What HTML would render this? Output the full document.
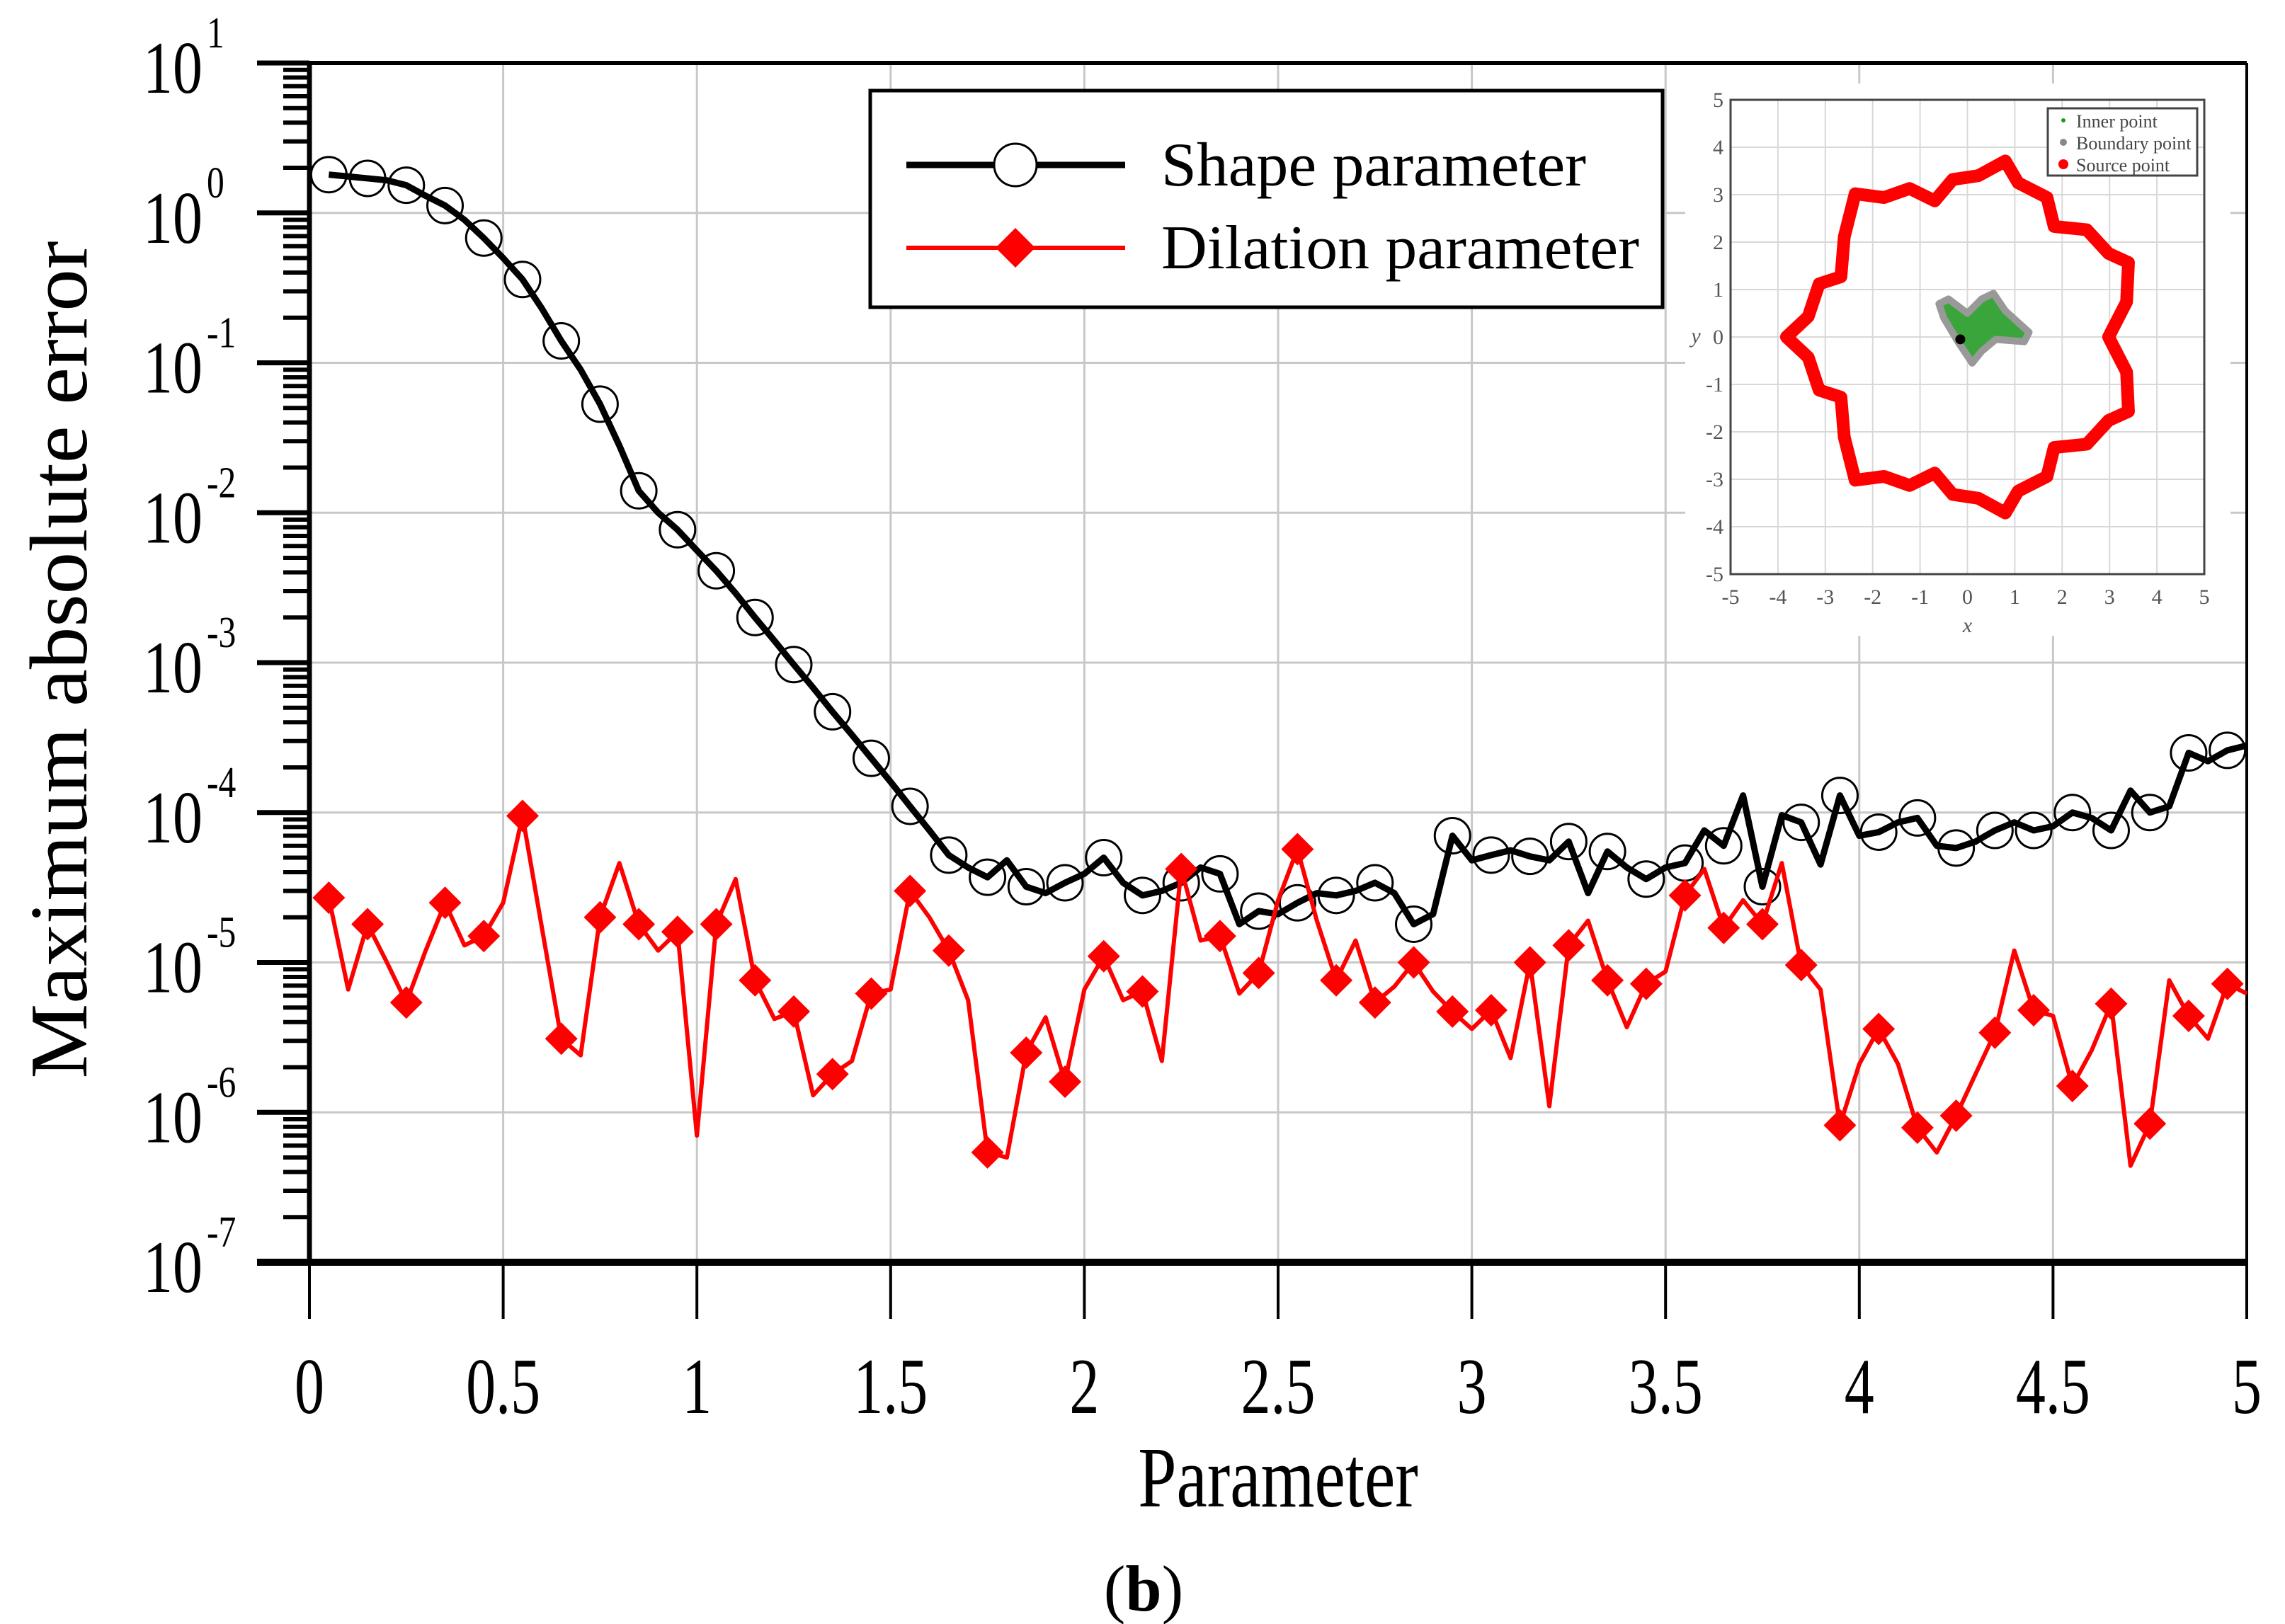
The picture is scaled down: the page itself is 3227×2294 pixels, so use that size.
<!DOCTYPE html>
<html><head><meta charset="utf-8"><style>
html,body{margin:0;padding:0;background:#fff;}
svg{display:block;font-family:"Liberation Serif",serif;}
</style></head><body>
<svg id="chart" width="3227" height="2294" viewBox="0 0 3227 2294" xmlns="http://www.w3.org/2000/svg"></svg>
<script>
// ---- data ----
const xTicks = [0,0.5,1,1.5,2,2.5,3,3.5,4,4.5,5];
const xTickLabels = ["0","0.5","1","1.5","2","2.5","3","3.5","4","4.5","5"];
const yExps = [1,0,-1,-2,-3,-4,-5,-6,-7];
const paramX = [];
for (let k = 1; k <= 100; k++) paramX.push(+(k*0.05).toFixed(2));
const shapeVals = [1.8,1.75,1.7,1.65,1.53,1.3,1.12,0.9,0.68,0.5,0.36,0.23,0.14,0.09,0.053,0.028,0.014,0.01,0.0077,0.0056,
0.0041,0.0029,0.002,0.0014,0.00097,6.8e-4,4.7e-4,3.3e-4,2.3e-4,1.6e-4,1.1e-4,7.6e-5,5.2e-5,4.3e-5,3.7e-5,4.8e-5,3.2e-5,2.9e-5,3.4e-5,3.9e-5,
5.0e-5,3.4e-5,2.8e-5,3.0e-5,3.4e-5,4.3e-5,3.9e-5,1.8e-5,2.2e-5,2.1e-5,2.5e-5,2.9e-5,2.8e-5,3.0e-5,3.4e-5,2.9e-5,1.8e-5,2.1e-5,7.0e-5,4.8e-5,
5.2e-5,5.6e-5,5.1e-5,4.8e-5,6.4e-5,2.9e-5,5.5e-5,4.3e-5,3.6e-5,4.3e-5,4.6e-5,7.6e-5,6.0e-5,1.3e-4,3.2e-5,9.6e-5,8.6e-5,4.5e-5,1.3e-4,7.0e-5,
7.4e-5,8.6e-5,9.2e-5,6.0e-5,5.8e-5,6.4e-5,7.6e-5,8.6e-5,7.6e-5,8.1e-5,1.0e-4,9.2e-5,7.6e-5,1.4e-4,1.0e-4,1.1e-4,2.5e-4,2.2e-4,2.6e-4,2.8e-4];
const dilationVals = [2.7e-5,6.6e-6,1.8e-5,1.0e-5,5.4e-6,1.2e-5,2.5e-5,1.3e-5,1.5e-5,2.5e-5,9.5e-5,1.7e-5,3.1e-6,2.4e-6,2.0e-5,4.6e-5,1.8e-5,1.2e-5,1.6e-5,7e-7,
1.8e-5,3.6e-5,7.6e-6,4.2e-6,4.7e-6,1.3e-6,1.8e-6,2.2e-6,6.2e-6,6.6e-6,3.0e-5,2.0e-5,1.2e-5,5.6e-6,5.4e-7,5.0e-7,2.5e-6,4.3e-6,1.6e-6,6.6e-6,
1.1e-5,5.6e-6,6.4e-6,2.2e-6,4.2e-5,1.4e-5,1.5e-5,6.2e-6,8.5e-6,2.6e-5,5.7e-5,1.9e-5,7.6e-6,1.4e-5,5.4e-6,6.9e-6,1.0e-5,6.4e-6,4.7e-6,3.6e-6,
4.8e-6,2.3e-6,1.0e-5,1.1e-6,1.3e-5,1.9e-5,7.6e-6,3.7e-6,7.2e-6,8.7e-6,2.8e-5,4.2e-5,1.7e-5,2.6e-5,1.8e-5,4.6e-5,9.6e-6,6.6e-6,8.2e-7,2.1e-6,
3.6e-6,2.1e-6,7.9e-7,5.4e-7,9.5e-7,1.8e-6,3.4e-6,1.2e-5,4.8e-6,4.4e-6,1.5e-6,2.6e-6,5.3e-6,4.4e-7,8.4e-7,7.6e-6,4.4e-6,3.1e-6,7.2e-6,6.2e-6];
// inset (decorative) data
const insetTicks = [-5,-4,-3,-2,-1,0,1,2,3,4,5];
const sourceTop = [[2.98,0],[3.36,0.74],[3.4,1.57],[2.98,1.76],[2.52,2.26],[1.83,2.33],[1.68,2.94],[1.07,3.25],[0.8,3.71],[0.23,3.4],[-0.31,3.32],[-0.69,2.87],[-1.22,3.13],[-1.76,2.94],[-2.37,3.02],[-2.6,2.11],[-2.67,1.27],[-3.13,1.12],[-3.36,0.43],[-3.82,0]];
const butterfly = [[-0.6,0.7],[-0.4,0.8],[0,0.5],[0.3,0.8],[0.55,0.92],[0.8,0.55],[1.3,0.1],[1.2,-0.1],[0.6,-0.05],[0.3,-0.3],[0.1,-0.55],[0,-0.4],[-0.2,-0.1],[-0.5,0.4]];

const NS = "http://www.w3.org/2000/svg";
const svg = document.getElementById("chart");
function mk(tag, attrs, parent){ const e=document.createElementNS(NS,tag); for(const k in attrs) e.setAttribute(k,attrs[k]); (parent||svg).appendChild(e); return e; }

const L=437, R=3173, T=89, B=1783;
const xS = v => L + (v-0)/(5-0)*(R-L);
const yS = v => T + (1 - Math.log10(v))/8*(B-T);
const yE = e => T + (1 - e)/8*(B-T);

// grid
const grid = mk("g",{});


xTicks.forEach(t=>{ mk("line",{x1:xS(t),x2:xS(t),y1:T,y2:B,stroke:"#c8c8c8","stroke-width":3},grid); });
yExps.forEach(e=>{ mk("line",{x1:L,x2:R,y1:yE(e),y2:yE(e),stroke:"#c8c8c8","stroke-width":3},grid); });

// y ticks and labels
const yAxis = mk("g",{});


yExps.forEach(e=>{
  mk("line",{x1:L-74,x2:L,y1:yE(e),y2:yE(e),stroke:"#000","stroke-width":7},yAxis);
  if(e>-7){ for(let m=2;m<=9;m++){ const yy=yE(e-1+Math.log10(m)); mk("line",{x1:L-37,x2:L,y1:yy,y2:yy,stroke:"#000","stroke-width":6},yAxis);} }
  const t=mk("text",{x:0,y:0,"font-size":105,"text-anchor":"end",transform:`translate(286,${yE(e)+42}) scale(0.8,1)`},yAxis);
  
  
  t.textContent="10";
  const s=mk("text",{x:0,y:0,"font-size":62,transform:`translate(292,${yE(e)-22}) scale(0.8,1)`},yAxis);
  s.textContent=String(e);
});
// x ticks and labels
const xAxis = mk("g",{});


xTicks.forEach((t,i)=>{
  mk("line",{x1:xS(t),x2:xS(t),y1:B,y2:1863,stroke:"#000","stroke-width":4},xAxis);
  const tx=mk("text",{x:0,y:0,"font-size":112,"text-anchor":"middle",transform:`translate(${xS(t)},1996) scale(0.75,1)`},xAxis);
  
  
  tx.textContent=xTickLabels[i];
});
// frame
mk("line",{x1:L,x2:R,y1:T,y2:T,stroke:"#000","stroke-width":6});
mk("line",{x1:R,x2:R,y1:T,y2:B,stroke:"#000","stroke-width":4});
mk("line",{x1:L,x2:L,y1:T,y2:B,stroke:"#000","stroke-width":7});
mk("line",{x1:L-74,x2:R,y1:B,y2:B,stroke:"#000","stroke-width":10});

// series
function series(vals,color,name,w){
  const g=mk("g",{});
  
  
  mk("polyline",{points:vals.map((v,i)=>xS(paramX[i])+","+yS(v)).join(" "),fill:"none",stroke:color,"stroke-width":w,"stroke-linejoin":"round"},g);
  return g;
}
const sg = series(shapeVals,"#000","shape-parameter-series",9);
shapeVals.forEach((v,i)=>{ if(i%2===0){ const c=mk("circle",{cx:xS(paramX[i]),cy:yS(v),r:25,fill:"none",stroke:"#000","stroke-width":3},sg);
  
   }});
const dg = series(dilationVals,"#ff0000","dilation-parameter-series",6);
dilationVals.forEach((v,i)=>{ if(i%2===0){ const cx=xS(paramX[i]), cy=yS(v), d=23;
  const p=mk("polygon",{points:`${cx},${cy-d} ${cx+d},${cy} ${cx},${cy+d} ${cx-d},${cy}`,fill:"#ff0000"},dg);
  
   }});

// axis titles
const yt=mk("text",{x:0,y:0,"font-size":115,"text-anchor":"middle",transform:"translate(122,932) rotate(-90)",textLength:1183,lengthAdjust:"spacingAndGlyphs"});


yt.textContent="Maximum absolute error";
const xt=mk("text",{x:0,y:0,"font-size":122,"text-anchor":"middle",transform:"translate(1805,2128) scale(0.8,1)"});


xt.textContent="Parameter";
const cap=mk("text",{x:1615,y:2275,"font-size":92,"text-anchor":"middle"});


cap.innerHTML='(<tspan font-weight="bold">b</tspan>)';

// legend
const lg=mk("g",{});


mk("rect",{x:1229,y:128,width:1119,height:306,fill:"#fff",stroke:"#000","stroke-width":5},lg);
mk("line",{x1:1280,x2:1589,y1:233,y2:233,stroke:"#000","stroke-width":9},lg);
mk("circle",{cx:1434,cy:233,r:30,fill:"#fff",stroke:"#000","stroke-width":3},lg);
const l1=mk("text",{x:1640,y:262,"font-size":88,textLength:600,lengthAdjust:"spacingAndGlyphs"},lg);


l1.textContent="Shape parameter";
mk("line",{x1:1280,x2:1589,y1:350,y2:350,stroke:"#ff0000","stroke-width":6},lg);
mk("polygon",{points:"1434,322 1462,350 1434,378 1406,350",fill:"#ff0000"},lg);
const l2=mk("text",{x:1640,y:379,"font-size":88,textLength:675,lengthAdjust:"spacingAndGlyphs"},lg);


l2.textContent="Dilation parameter";

// inset
const ig=mk("g",{});


const iL=2444,iR=3113,iT=141,iB=811;
const ix=v=>iL+(v+5)/10*(iR-iL), iy=v=>iB-(v+5)/10*(iB-iT);
mk("rect",{x:2380,y:118,width:770,height:780,fill:"#fff"},ig);
insetTicks.forEach(t=>{
  mk("line",{x1:ix(t),x2:ix(t),y1:iT,y2:iB,stroke:"#d8d8d8","stroke-width":2},ig);
  mk("line",{x1:iL,x2:iR,y1:iy(t),y2:iy(t),stroke:"#d8d8d8","stroke-width":2},ig);
  const a=mk("text",{x:ix(t),y:iB+42,"font-size":30,"text-anchor":"middle",fill:"#555"},ig); a.textContent=String(t);
  const b=mk("text",{x:iL-10,y:iy(t)+10,"font-size":30,"text-anchor":"end",fill:"#555"},ig); b.textContent=String(t);
});
mk("rect",{x:iL,y:iT,width:iR-iL,height:iB-iT,fill:"none",stroke:"#444","stroke-width":3},ig);
const xl=mk("text",{x:(iL+iR)/2,y:iB+82,"font-size":30,"font-style":"italic","text-anchor":"middle",fill:"#555"},ig); xl.textContent="x";
const yl=mk("text",{x:2395,y:iy(0)+8,"font-size":30,"font-style":"italic","text-anchor":"middle",fill:"#555"},ig); yl.textContent="y";
const src=sourceTop.concat(sourceTop.slice(1,-1).reverse().map(p=>[p[0],-p[1]]));
mk("polygon",{points:src.map(p=>ix(p[0])+","+iy(p[1])).join(" "),fill:"none",stroke:"#ff0000","stroke-width":18,"stroke-linejoin":"round"},ig);
mk("polygon",{points:butterfly.map(p=>ix(p[0])+","+iy(p[1])).join(" "),fill:"#3aa53a",stroke:"#999","stroke-width":10,"stroke-linejoin":"round"},ig);
mk("circle",{cx:ix(-0.15),cy:iy(-0.05),r:7,fill:"#000"},ig);
mk("rect",{x:2892,y:153,width:211,height:95,fill:"#fff",stroke:"#444","stroke-width":3},ig);
[["Inner point","#1a9a1a",3],["Boundary point","#888",5],["Source point","#ff0000",7]].forEach((e,i)=>{
  mk("circle",{cx:2914,cy:170+i*31,r:e[2],fill:e[1]},ig);
  const t=mk("text",{x:2932,y:180+i*31,"font-size":26,fill:"#444"},ig); t.textContent=e[0];
});
</script>
</body></html>
